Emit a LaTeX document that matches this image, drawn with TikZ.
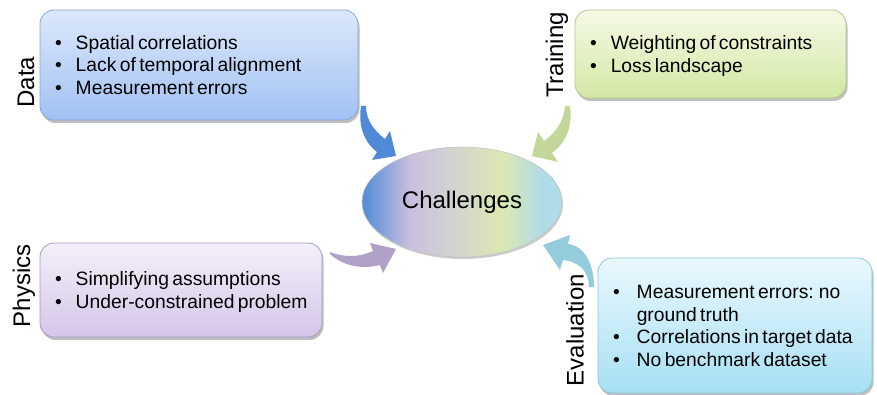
\documentclass[tikz,border=0pt]{standalone}
\usepackage{fontspec}
\setmainfont{Liberation Sans}
\usetikzlibrary{shadows,shapes.geometric}
\definecolor{cA}{HTML}{5A8FD8}
\definecolor{cB}{HTML}{CABFDE}
\definecolor{cC}{HTML}{D2D2D2}
\definecolor{cD}{HTML}{DCE8B2}
\definecolor{cE}{HTML}{B0DCE7}
\definecolor{dataT}{HTML}{DCE8FB}
\definecolor{dataB}{HTML}{A1C1F3}
\definecolor{dataD}{HTML}{8AA6D6}
\definecolor{trT}{HTML}{F5FAE6}
\definecolor{trB}{HTML}{D2E8A4}
\definecolor{trD}{HTML}{B4C98C}
\definecolor{phT}{HTML}{F4F0FA}
\definecolor{phB}{HTML}{D4C6E8}
\definecolor{phD}{HTML}{A898C2}
\definecolor{evT}{HTML}{EAF8FD}
\definecolor{evB}{HTML}{A6E0F4}
\definecolor{evD}{HTML}{8CC6DC}
\definecolor{arBlue}{HTML}{5089D6}
\definecolor{arGreen}{HTML}{C4D79B}
\definecolor{arPurple}{HTML}{B2A1C7}
\definecolor{arCyan}{HTML}{93CDDD}
\pgfdeclarehorizontalshading{challshade}{100bp}{color(0bp)=(cA); color(26bp)=(cA); color(37bp)=(cB); color(47bp)=(cC); color(60bp)=(cD); color(70bp)=(cE); color(100bp)=(cE)}
\tikzset{
  box/.style={draw=#1D, line width=0.8pt, rounded corners=14pt, top color=#1T, bottom color=#1B,
    inner xsep=15pt, inner ysep=0pt, anchor=center, align=left,
    drop shadow={shadow xshift=1.5pt, shadow yshift=-3pt, opacity=0.25, fill=black}},
  lab/.style={rotate=90, font=\fontsize{24}{28}\selectfont, inner sep=0pt},
  blockarrow/.style={fill=#1, draw=none},
}
\newcommand{\bl}[2][14pt]{\raisebox{-2.5pt}[\height][\depth]{\fontsize{19.3}{22.5}\selectfont\begin{tabular}{@{}l@{\hspace{#1}}l@{}}#2\end{tabular}}}
\begin{document}
\begin{tikzpicture}[x=1pt,y=-1pt]
\useasboundingbox (0,0) rectangle (877,395);
% boxes
\node[box=data, minimum width=318pt, minimum height=110pt, text width=288pt] (data) at (199,65)
  {\bl{\textbullet & Spatial correlations\\ \textbullet & Lack of temporal alignment\\ \textbullet & Measurement errors}};
\node[box=tr, minimum width=271pt, minimum height=88pt, text width=241pt] (train) at (710.5,54)
  {\bl{\textbullet & Weighting of constraints\\ \textbullet & Loss landscape}};
\node[box=ph, minimum width=282pt, minimum height=94pt, text width=252pt] (phys) at (181,290)
  {\bl{\textbullet & Simplifying assumptions\\ \textbullet & Under-constrained problem}};
\node[box=ev, minimum width=274pt, minimum height=135pt, text width=244pt] (eval) at (735,325.5)
  {\bl[17pt]{\textbullet & Measurement errors: no\\ & ground truth\\ \textbullet & Correlations in target data\\ \textbullet & No benchmark dataset}};
% labels
\node[lab] (ldata) at (26,82) {Data};
\node[lab] (ltrain) at (557,55) {Training};
\node[lab] (lphys) at (24,286) {Physics};
\node[lab] (leval) at (575,330) {Evaluation};
% center
\node[ellipse, minimum width=200pt, minimum height=110pt, shading=challshade, draw=black!25, line width=0.5pt,
  drop shadow={shadow xshift=1pt, shadow yshift=-2pt, opacity=0.2, fill=black},
  font=\fontsize{24}{28}\selectfont] (ch) at (462,202) {Challenges};
% arrows
\fill[blockarrow=arBlue] (361,106) .. controls (358,126) and (364,142) .. (377,152) -- (372,160) -- (396,156) -- (390,131)
  -- (385,139) .. controls (373,130) and (366,119) .. (366,106) -- cycle;
\fill[blockarrow=arGreen] (565,106) -- (570,106) .. controls (573,126) and (566,143) .. (552,153) -- (558,162) -- (532,156)
  -- (538,132) -- (544,141) .. controls (556,133) and (564,120) .. (565,106) -- cycle;
\fill[blockarrow=arPurple] (330,252) .. controls (345,258) and (360,257) .. (373,251) -- (370,243) -- (396,249) -- (383,273)
  -- (380,265) .. controls (360,270) and (342,265) .. (330,254) -- cycle;
\fill[blockarrow=arCyan] (589,287) .. controls (589,272) and (580,262) .. (563,260) -- (560,270) -- (543,245) -- (570,235)
  -- (568,244) .. controls (585,246) and (594,265) .. (594,287) -- cycle;
\end{tikzpicture}
\end{document}
